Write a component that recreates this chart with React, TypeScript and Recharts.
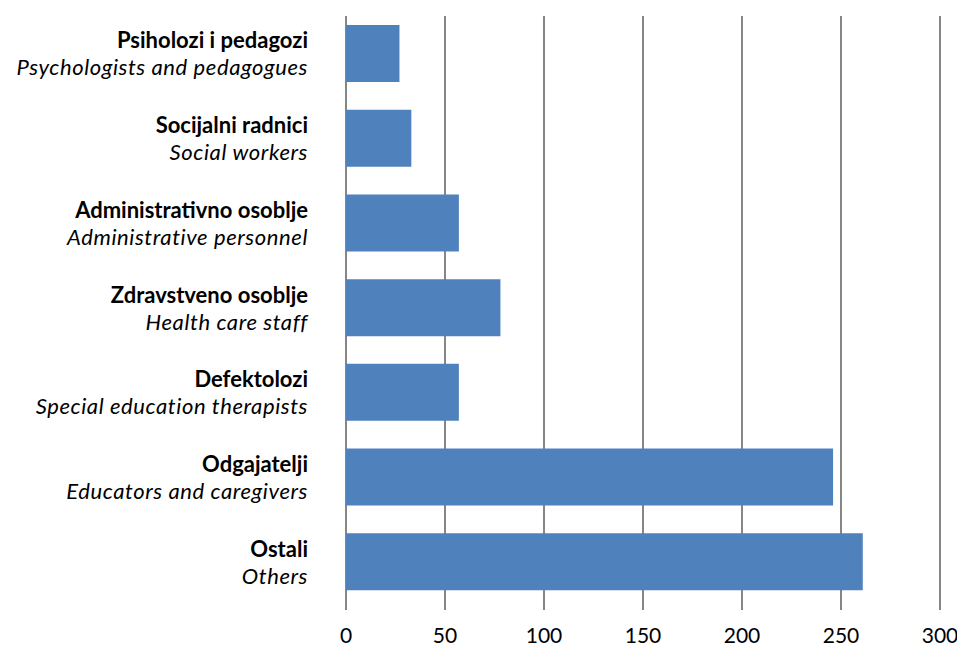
import React from 'react';
import { BarChart, Bar, XAxis, YAxis, CartesianGrid } from 'recharts';

// Category labels (local + English) and staff counts
const labelsLocal = [
  'Psiholozi i pedagozi',
  'Socijalni radnici',
  'Administrativno osoblje',
  'Zdravstveno osoblje',
  'Defektolozi',
  'Odgajatelji',
  'Ostali',
];
const labelsEnglish = [
  'Psychologists and pedagogues',
  'Social workers',
  'Administrative personnel',
  'Health care staff',
  'Special education therapists',
  'Educators and caregivers',
  'Others',
];
const counts = [27, 33, 57, 78, 57, 246, 261];
const xTicks = [0, 50, 100, 150, 200, 250, 300];

const data = labelsLocal.map((name, i) => ({
  name,
  english: labelsEnglish[i],
  value: counts[i],
}));

const FONT = 'Lato, "Open Sans", sans-serif';

// Two-line category label: bold local name above, italic English below
const CategoryTick = ({ x, y, payload }: any) => {
  const row = data[payload.index] || data.find(d => d.name === payload.value);
  return (
    <text x={x} y={y} textAnchor="end" fontFamily={FONT} fontSize={22} fill="#000">
      <tspan x={x} dy={-5} fontWeight="bold">{row.name}</tspan>
      <tspan x={x} dy={27} fontStyle="italic" letterSpacing={0.6}>{row.english}</tspan>
    </text>
  );
};

const App: React.FC = () => {
  return (
    <div style={{ position: 'absolute', left: 0, top: 0, background: '#fff' }}>
      <BarChart
        width={957}
        height={648}
        data={data}
        layout="vertical"
        margin={{ top: 11, right: 17, bottom: 0, left: 0 }}
        barSize={57}
      >
        <CartesianGrid horizontal={false} stroke="#868686" strokeWidth={2} y={16} height={588} />
        <XAxis
          type="number"
          domain={[0, 300]}
          ticks={xTicks}
          axisLine={false}
          tickLine={{ stroke: '#868686', strokeWidth: 2 }}
          tickSize={6}
          tickMargin={18}
          height={44}
          tick={{ fontFamily: FONT, fontSize: 21, fill: '#000' }}
          interval={0}
        />
        <YAxis
          type="category"
          dataKey="name"
          width={346}
          axisLine={false}
          tickLine={false}
          tickSize={0}
          tickMargin={38}
          interval={0}
          tick={<CategoryTick />}
        />
        <Bar dataKey="value" fill="#4F81BD" isAnimationActive={false} />
      </BarChart>
    </div>
  );
};

export default App;
